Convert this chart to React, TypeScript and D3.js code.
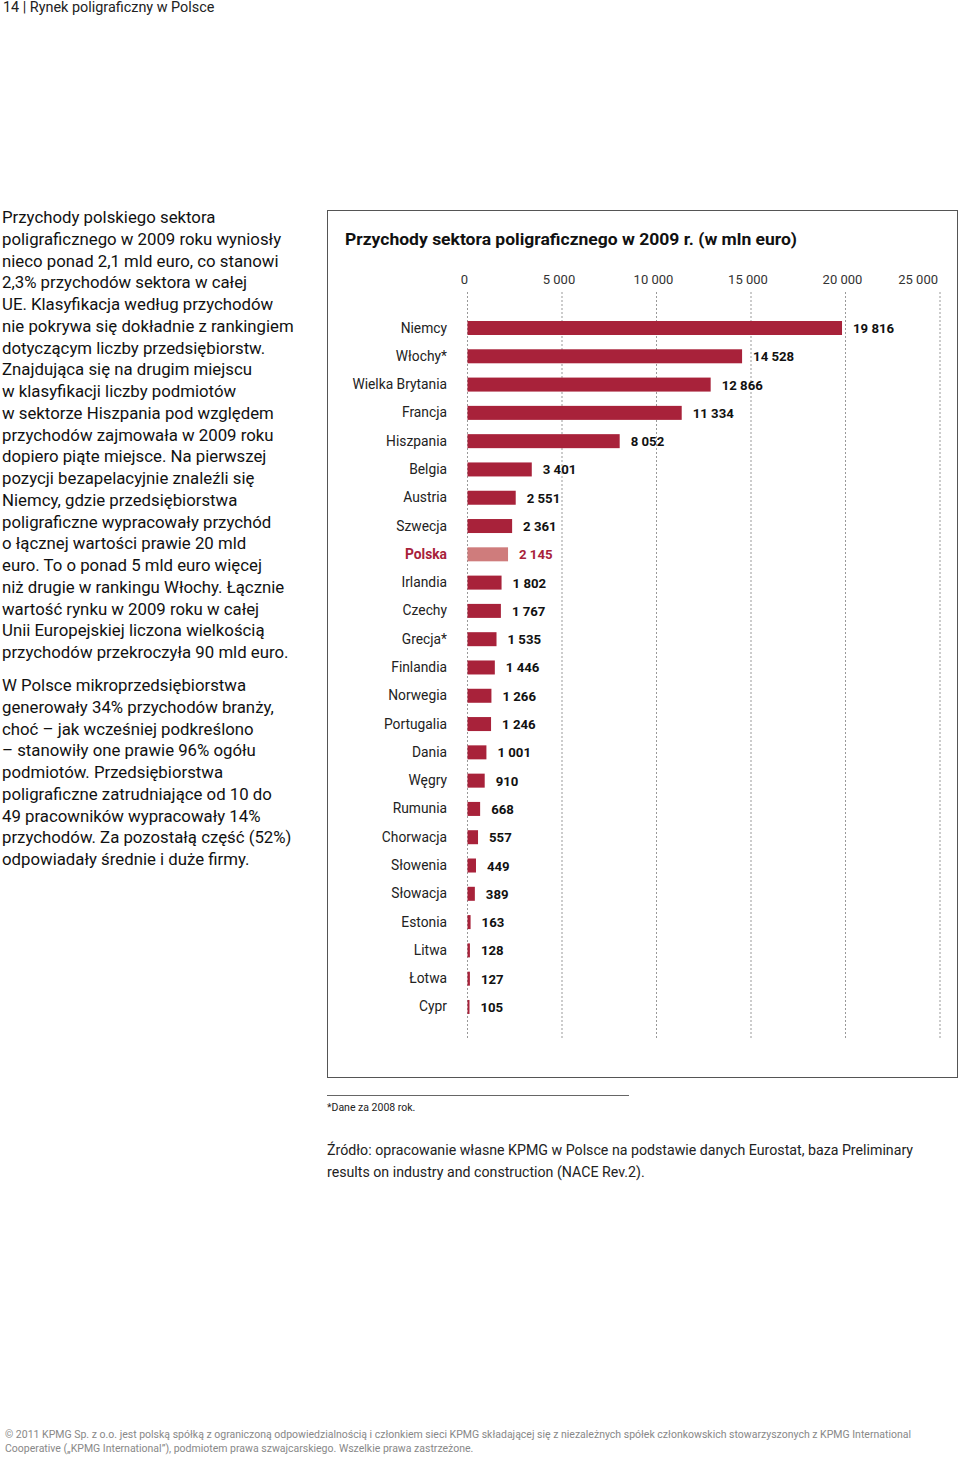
import React from "react";
import * as d3 from "d3";

const countries = ["Niemcy","Włochy*","Wielka Brytania","Francja","Hiszpania","Belgia","Austria","Szwecja","Polska","Irlandia","Czechy","Grecja*","Finlandia","Norwegia","Portugalia","Dania","Węgry","Rumunia","Chorwacja","Słowenia","Słowacja","Estonia","Litwa","Łotwa","Cypr"];
const revenues = [19816,14528,12866,11334,8052,3401,2551,2361,2145,1802,1767,1535,1446,1266,1246,1001,910,668,557,449,389,163,128,127,105];
const ticks = [0,5000,10000,15000,20000,25000];
const highlight = "Polska";

const paragraph1 = [
  "Przychody polskiego sektora",
  "poligraficznego w 2009 roku wyniosły",
  "nieco ponad 2,1 mld euro, co stanowi",
  "2,3% przychodów sektora w całej",
  "UE. Klasyfikacja według przychodów",
  "nie pokrywa się dokładnie z rankingiem",
  "dotyczącym liczby przedsiębiorstw.",
  "Znajdująca się na drugim miejscu",
  "w klasyfikacji liczby podmiotów",
  "w sektorze Hiszpania pod względem",
  "przychodów zajmowała w 2009 roku",
  "dopiero piąte miejsce. Na pierwszej",
  "pozycji bezapelacyjnie znaleźli się",
  "Niemcy, gdzie przedsiębiorstwa",
  "poligraficzne wypracowały przychód",
  "o łącznej wartości prawie 20 mld",
  "euro. To o ponad 5 mld euro więcej",
  "niż drugie w rankingu Włochy. Łącznie",
  "wartość rynku w 2009 roku w całej",
  "Unii Europejskiej liczona wielkością",
  "przychodów przekroczyła 90 mld euro.",
];
const paragraph2 = [
  "W Polsce mikroprzedsiębiorstwa",
  "generowały 34% przychodów branży,",
  "choć – jak wcześniej podkreślono",
  "– stanowiły one prawie 96% ogółu",
  "podmiotów. Przedsiębiorstwa",
  "poligraficzne zatrudniające od 10 do",
  "49 pracowników wypracowały 14%",
  "przychodów. Za pozostałą część (52%)",
  "odpowiadały średnie i duże firmy.",
];

const fmt = (v: number) => {
  const s = String(v);
  return s.length > 3 ? s.slice(0, s.length - 3) + " " + s.slice(-3) : s;
};

const BAR = "#a8223a";
const BAR_HL = "#cf7c7c";
const FONT = "Roboto, 'Open Sans', sans-serif";

export default function App() {
  const x = d3.scaleLinear().domain([0, 25000]).range([467.5, 940]);
  const step = 28.29;
  const y = d3
    .scaleBand<string>()
    .domain(countries)
    .range([328 - step / 2, 328 - step / 2 + step * countries.length])
    .paddingInner(0.5)
    .paddingOuter(0.25);
  const bh = 14;

  return (
    <svg width={960} height={1457} style={{ position: "absolute", left: 0, top: 0, background: "#fff" }} fontFamily={FONT}>
      <text x={3} y={12} fontSize={14.4} fill="#222">14 | Rynek poligraficzny w Polsce</text>

      {paragraph1.map((l, i) => (
        <text key={"p1" + i} x={2} y={223 + i * 21.75} fontSize={16.8} fill="#111">{l}</text>
      ))}
      {paragraph2.map((l, i) => (
        <text key={"p2" + i} x={2} y={691 + i * 21.75} fontSize={16.8} fill="#111">{l}</text>
      ))}

      <rect x={327.5} y={210.5} width={630} height={867} fill="none" stroke="#555" strokeWidth={1} />
      <text x={345} y={245} fontSize={16} fontWeight="bold" fill="#111" textLength={452} lengthAdjust="spacingAndGlyphs">
        Przychody sektora poligraficznego w 2009 r. (w mln euro)
      </text>

      {ticks.map((t, i) => (
        <g key={"t" + t}>
          <line x1={x(t)} x2={x(t)} y1={292} y2={1040} stroke="#999" strokeWidth={1} strokeDasharray="2,2" />
          <text
            x={i === ticks.length - 1 ? x(t) - 2 : x(t) - 3}
            y={284}
            fontSize={13}
            fill="#333"
            textAnchor={i === ticks.length - 1 ? "end" : "middle"}
          >
            {fmt(t)}
          </text>
        </g>
      ))}

      {countries.map((c, i) => {
        const v = revenues[i];
        const yc = (y(c) as number) + y.bandwidth() / 2;
        const hl = c === highlight;
        return (
          <g key={c}>
            <text x={447} y={yc + 4.5} fontSize={13.8} textAnchor="end" fill={hl ? BAR : "#222"} fontWeight={hl ? "bold" : "normal"}>
              {c}
            </text>
            <rect x={x(0)} y={yc - bh / 2} width={x(v) - x(0)} height={bh} fill={hl ? BAR_HL : BAR} />
            <text x={x(v) + 11} y={yc + 5} fontSize={13.2} fontWeight="bold" fill={hl ? BAR : "#111"}>
              {fmt(v)}
            </text>
          </g>
        );
      })}

      <line x1={327} x2={629} y1={1095.5} y2={1095.5} stroke="#666" strokeWidth={1} />
      <text x={327} y={1111} fontSize={10.5} fill="#222">*Dane za 2008 rok.</text>
      <text x={327} y={1155} fontSize={14.2} fill="#222">Źródło: opracowanie własne KPMG w Polsce na podstawie danych Eurostat, baza Preliminary</text>
      <text x={327} y={1177} fontSize={14.2} fill="#222">results on industry and construction (NACE Rev.2).</text>

      <text x={5} y={1438} fontSize={10.5} fill="#888">© 2011 KPMG Sp. z o.o. jest polską spółką z ograniczoną odpowiedzialnością i członkiem sieci KPMG składającej się z niezależnych spółek członkowskich stowarzyszonych z KPMG International</text>
      <text x={5} y={1452} fontSize={10.5} fill="#888">Cooperative („KPMG International”), podmiotem prawa szwajcarskiego. Wszelkie prawa zastrzeżone.</text>
    </svg>
  );
}
